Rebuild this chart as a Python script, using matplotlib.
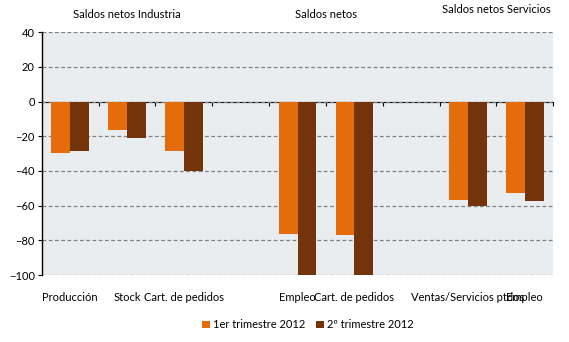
import numpy as np
import matplotlib.pyplot as plt
from matplotlib.transforms import blended_transform_factory

# categories (empty slots separate the groups)
categorias = ['Producción', 'Stock', 'Cart. de pedidos', '',
              'Empleo', 'Cart. de pedidos', '',
              'Ventas/Servicios ptdos', 'Empleo']
t1_2012 = [-29.5, -16.5, -28.5, np.nan, -76.5, -77, np.nan, -57, -52.5]
t2_2012 = [-28.5, -21, -40, np.nan, -100, -100, np.nan, -60, -57.5]
series = ['1er trimestre 2012', '2º trimestre 2012']
grupos = ['Saldos netos Industria', 'Saldos netos', 'Saldos netos Servicios']
grupos_x = [1, 4.5, 7.5]
grupos_y = [0.959, 0.959, 0.971]

col1 = '#E46C0A'
col2 = '#723408'

plt.rcParams['font.family'] = ['Lato', 'DejaVu Sans']
plt.rcParams['font.size'] = 8

fig = plt.figure(figsize=(5.69, 3.42), dpi=100)
ax = fig.add_axes([0.0733, 0.1959, 0.8991, 0.7097])
ax.set_facecolor('#E9EDF0')

x = np.arange(len(categorias))
w = 0.33
ax.bar(x - w / 2, t1_2012, w, color=col1, label=series[0], zorder=3)
ax.bar(x + w / 2, t2_2012, w, color=col2, label=series[1], zorder=3)

ax.set_xlim(-0.5, len(categorias) - 0.5)
ax.set_ylim(-100, 40)
ax.set_yticks(np.arange(-100, 41, 20))
ax.yaxis.grid(True, linestyle=(0, (3, 2)), color='#808080', linewidth=0.9)
ax.set_axisbelow(True)

for s in ['top', 'right', 'bottom']:
    ax.spines[s].set_visible(False)
ax.spines['left'].set_linewidth(1)
ax.tick_params(axis='y', length=3, width=0.8, pad=2, labelsize=8)

# category labels under the plot
ax.set_xticks(x)
ax.set_xticklabels(categorias)
ax.tick_params(axis='x', length=0, pad=12, labelsize=8)

# axis line at zero with ticks on the boundaries
sec = ax.secondary_xaxis(100 / 140)
sec.set_xticks(np.arange(0.5, len(categorias), 1))
sec.set_xticklabels([])
sec.tick_params(axis='x', direction='in', length=3, width=0.8)
sec.spines['bottom'].set_linewidth(1)

tr = blended_transform_factory(ax.transData, fig.transFigure)
for g, gx, gy in zip(grupos, grupos_x, grupos_y):
    ax.text(gx, gy, g, transform=tr, ha='center', va='center', fontsize=8)

fig.legend(loc='center', bbox_to_anchor=(0.541, 0.05), ncol=2, frameon=False,
           handlelength=0.7, handleheight=0.7, handletextpad=0.3,
           columnspacing=1.0, fontsize=8)

fig.savefig('out.png', dpi=100)
